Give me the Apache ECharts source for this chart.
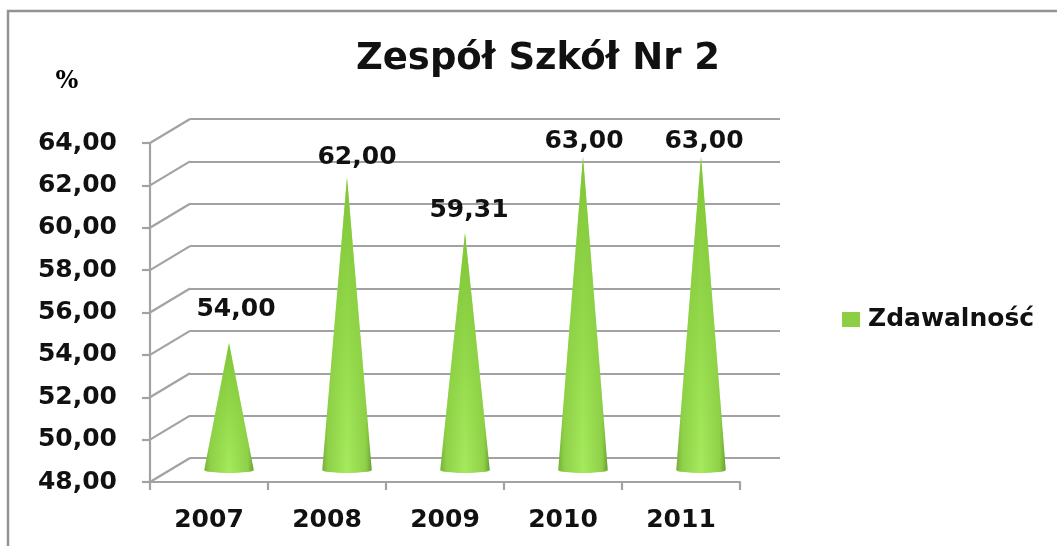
<!DOCTYPE html>
<html>
<head>
<meta charset="utf-8">
<title>Zespół Szkół Nr 2</title>
<script src="https://cdn.jsdelivr.net/npm/echarts@6/dist/echarts.min.js"></script>
<style>
  html, body { margin: 0; padding: 0; background: #fff; overflow: hidden; }
  #main { width: 1057px; height: 546px; }
</style>
</head>
<body>
<div id="main"></div>
<script>
const years = ['2007', '2008', '2009', '2010', '2011'];
const zdawalnosc = [54.00, 62.00, 59.31, 63.00, 63.00];
const yTicks = [48, 50, 52, 54, 56, 58, 60, 62, 64];

const FONT = '"DejaVu Sans", sans-serif';
const GRID_COLOR = '#a2a2a2';

// pseudo 3d: the back wall sits this many pixels up and right of the front axes
const DEPTH_X = 40;
const DEPTH_Y = 24;
// label nudges against the cone tip, Excel placed them by hand
const labelNudge = [[7, -33], [10, -20], [4, -23], [1, -15], [3, -15]];

const fmt = v => v.toFixed(2).replace('.', ',');

function renderDepthLine(params, api) {
  const y = api.coord([0, api.value(0)])[1];
  const x = params.coordSys.x;
  return {
    type: 'line',
    shape: { x1: x, y1: y, x2: x + DEPTH_X, y2: y - DEPTH_Y },
    style: { stroke: GRID_COLOR, lineWidth: 2.2 }
  };
}

function renderCone(params, api) {
  const i = api.value(0);
  const tip = api.coord([i, api.value(1)]);
  const base = api.coord([i, 48]);
  const half = api.size([1, 0])[0] * 0.21;
  const ry = 3;
  const baseY = base[1] + 3;
  const nudge = labelNudge[params.dataIndex];
  const conePath = {
    pathData: 'M' + (base[0] - half) + ' ' + baseY +
      ' L' + tip[0] + ' ' + tip[1] +
      ' L' + (base[0] + half) + ' ' + baseY +
      ' A' + half + ' ' + ry + ' 0 0 1 ' + (base[0] - half) + ' ' + baseY + ' Z',
    layout: 'cover',
    x: base[0] - half, y: tip[1], width: half * 2, height: baseY + ry - tip[1]
  };
  return {
    type: 'group',
    children: [
      {
        type: 'path',
        shape: conePath,
        style: {
          fill: new echarts.graphic.LinearGradient(0, 0, 1, 0, [
            { offset: 0, color: '#74ae38' },
            { offset: 0.12, color: '#8fd048' },
            { offset: 0.5, color: '#a6ea5e' },
            { offset: 0.88, color: '#8fd048' },
            { offset: 1, color: '#64a02e' }
          ])
        }
      },
      {
        // the tip is darker than the belly of the cone
        type: 'path',
        shape: conePath,
        style: {
          fill: new echarts.graphic.LinearGradient(0, 0, 0, 1, [
            { offset: 0, color: 'rgba(125,195,52,0.95)' },
            { offset: 0.55, color: 'rgba(135,205,62,0.55)' },
            { offset: 1, color: 'rgba(140,210,66,0)' }
          ])
        }
      },
      {
        type: 'text',
        style: {
          x: tip[0] + nudge[0],
          y: tip[1] + nudge[1],
          text: fmt(api.value(1)),
          fill: '#111',
          fontFamily: FONT,
          fontSize: 25,
          fontWeight: 'bold',
          align: 'center',
          verticalAlign: 'middle'
        }
      }
    ]
  };
}

const chart = echarts.init(document.getElementById('main'));
chart.setOption({
  animation: false,
  backgroundColor: '#fff',
  title: {
    text: 'Zespół Szkół Nr 2',
    left: 533,
    top: 36,
    textAlign: 'center',
    textStyle: { fontFamily: FONT, fontSize: 37, fontWeight: 'bold', color: '#111' }
  },
  legend: {
    data: ['Zdawalność'],
    left: 842,
    top: 307,
    padding: 0,
    icon: 'rect',
    itemWidth: 18,
    itemHeight: 15,
    textStyle: { fontFamily: FONT, fontSize: 25, fontWeight: 'bold', color: '#111', padding: [0, 0, 0, 3] }
  },
  graphic: [
    {
      // only the top and left edges of the frame are in the picture
      type: 'rect',
      shape: { x: 8, y: 11, width: 1100, height: 600 },
      style: { fill: 'none', stroke: '#939393', lineWidth: 2.5 },
      silent: true
    },
    {
      type: 'text',
      style: {
        x: 67, y: 82, text: '%', fill: '#000',
        fontFamily: '"DejaVu Serif", serif', fontSize: 24, fontWeight: 'bold',
        align: 'center', verticalAlign: 'middle'
      },
      silent: true
    }
  ],
  grid: [
    { left: 150, top: 143, width: 590, height: 339 },
    { left: 190, top: 119, width: 590, height: 339 },
    { left: 170, top: 136, width: 590, height: 331 }
  ],
  xAxis: [
    {
      gridIndex: 0,
      type: 'category',
      data: years,
      axisLine: { lineStyle: { color: GRID_COLOR, width: 2.2 } },
      axisTick: { show: true, length: 8, alignWithLabel: false, lineStyle: { color: GRID_COLOR, width: 2.2 } },
      axisLabel: { margin: 26, color: '#111', fontFamily: FONT, fontSize: 25, fontWeight: 'bold' }
    },
    { gridIndex: 1, type: 'category', data: years, show: false },
    { gridIndex: 2, type: 'category', data: years, show: false }
  ],
  yAxis: [
    {
      gridIndex: 0,
      type: 'value',
      min: 48,
      max: 64,
      interval: 2,
      axisLine: { show: true, lineStyle: { color: GRID_COLOR, width: 2.2 } },
      axisTick: { show: true, length: 8, lineStyle: { color: GRID_COLOR, width: 2.2 } },
      axisLabel: { margin: 33, padding: [3, 0, 0, 0], color: '#111', fontFamily: FONT, fontSize: 25, fontWeight: 'bold', formatter: fmt },
      splitLine: { show: false }
    },
    {
      gridIndex: 1,
      type: 'value',
      min: 48,
      max: 64,
      interval: 2,
      axisLine: { show: false },
      axisTick: { show: false },
      axisLabel: { show: false },
      splitLine: { show: true, lineStyle: { color: GRID_COLOR, width: 2.2 } }
    },
    { gridIndex: 2, type: 'value', min: 48, max: 64, show: false, splitLine: { show: false } }
  ],
  series: [
    {
      type: 'custom',
      name: 'depth',
      xAxisIndex: 0,
      yAxisIndex: 0,
      silent: true,
      clip: false,
      renderItem: renderDepthLine,
      encode: { y: 0 },
      data: yTicks.map(v => [v])
    },
    {
      type: 'custom',
      name: 'Zdawalność',
      xAxisIndex: 2,
      yAxisIndex: 2,
      clip: false,
      itemStyle: { color: '#8ccf45' },
      renderItem: renderCone,
      encode: { x: 0, y: 1 },
      data: zdawalnosc.map((v, i) => [i, v])
    }
  ]
});
</script>
</body>
</html>
